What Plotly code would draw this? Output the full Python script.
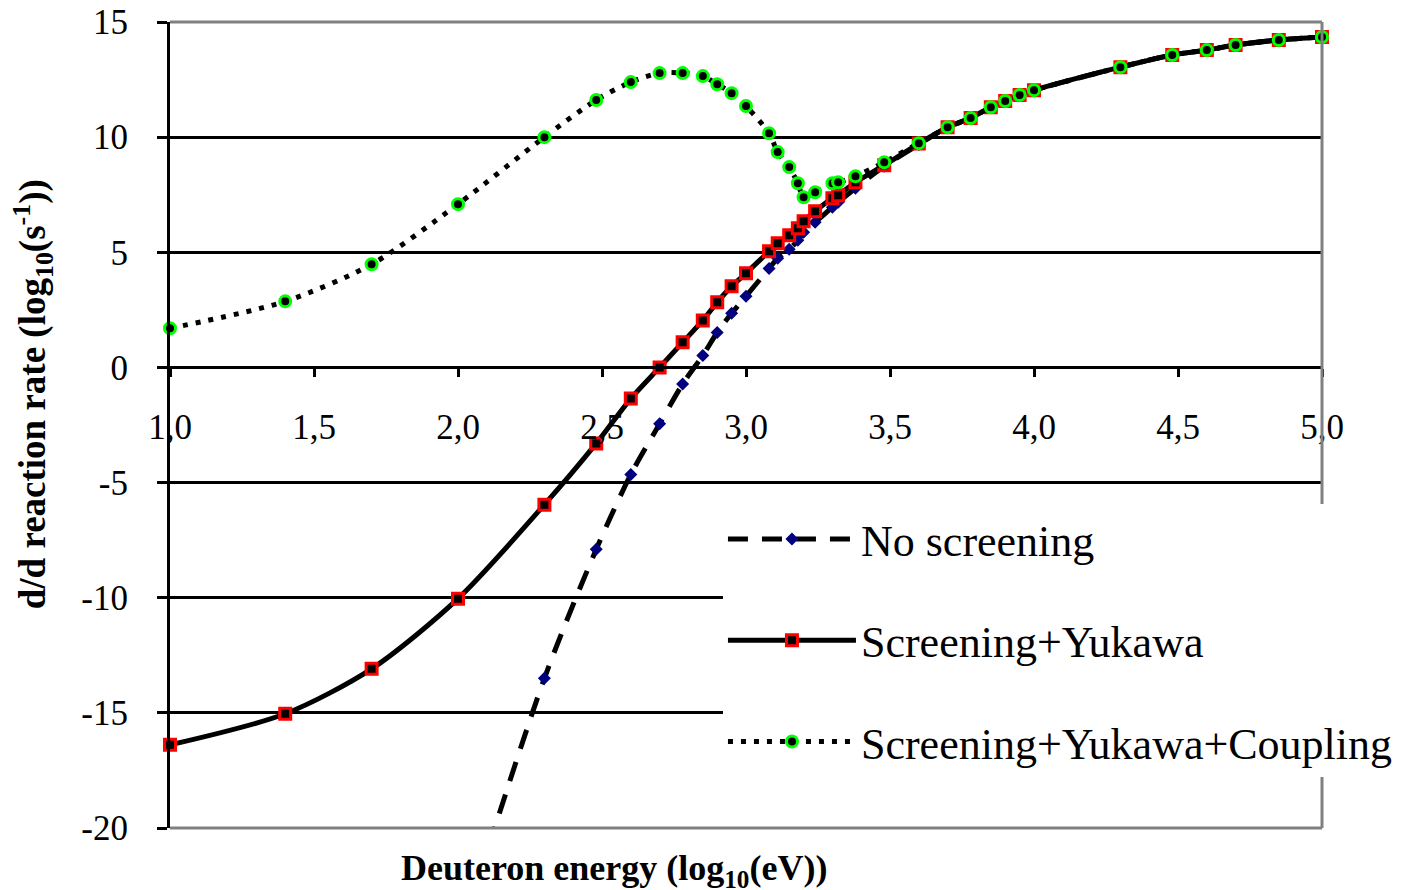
import plotly.graph_objects as go

# log10 of deuteron energy (eV)
log_energy = [1.0, 1.4, 1.7, 2.0, 2.3, 2.48, 2.6, 2.7, 2.78, 2.85, 2.9, 2.95, 3.0,
              3.08, 3.11, 3.15, 3.18, 3.2, 3.24, 3.3, 3.32, 3.38, 3.48, 3.6, 3.7,
              3.78, 3.85, 3.9, 3.95, 4.0, 4.3, 4.48, 4.6, 4.7, 4.85, 5.0]

no_screening = [None, None, None, -25.0, -13.5, -7.9, -4.65, -2.45, -0.72, 0.52, 1.52,
                2.35, 3.09, 4.30, 4.74, 5.13, 5.52, 5.87, 6.30, 6.96, 7.17, 7.78, 8.74,
                9.68, 10.43, 10.83, 11.30, 11.57, 11.83, 12.04, 13.04, 13.57, 13.78,
                14.0, 14.22, 14.35]

screening_yukawa = [-16.39, -15.04, -13.09, -10.04, -5.96, -3.30, -1.35, 0.0, 1.09, 2.04,
                    2.83, 3.52, 4.09, 5.04, 5.39, 5.74, 6.04, 6.35, 6.78, 7.35, 7.48, 8.04,
                    8.78, 9.72, 10.43, 10.83, 11.30, 11.57, 11.83, 12.04, 13.04, 13.57,
                    13.78, 14.0, 14.22, 14.35]

screening_yukawa_coupling = [1.70, 2.87, 4.48, 7.09, 10.0, 11.61, 12.39, 12.78, 12.78, 12.65,
                             12.30, 11.91, 11.35, 10.17, 9.35, 8.70, 8.0, 7.39, 7.61, 8.0,
                             8.04, 8.30, 8.91, 9.74, 10.43, 10.83, 11.30, 11.57, 11.83,
                             12.04, 13.04, 13.57, 13.78, 14.0, 14.22, 14.35]

series_names = ["No screening", "Screening+Yukawa", "Screening+Yukawa+Coupling"]

x_ticks = [1.0, 1.5, 2.0, 2.5, 3.0, 3.5, 4.0, 4.5, 5.0]
x_ticktext = ["1,0", "1,5", "2,0", "2,5", "3,0", "3,5", "4,0", "4,5", "5,0"]
y_ticks = [-20, -15, -10, -5, 0, 5, 10, 15]
y_ticktext = ["-20", "-15", "-10", "-5", "0", "5", "10", "15"]

FONT = "Liberation Serif"

fig = go.Figure()

fig.add_trace(go.Scatter(
    x=log_energy, y=no_screening, name=series_names[0], mode="lines+markers",
    line=dict(color="black", width=5, dash="20px,14px", shape="spline", smoothing=0.8),
    marker=dict(symbol="diamond", size=10, color="#000080", line=dict(width=0)),
    legendgroup="a", connectgaps=False,
))
fig.add_trace(go.Scatter(
    x=log_energy, y=screening_yukawa, name=series_names[1], mode="lines+markers",
    line=dict(color="black", width=5, shape="spline", smoothing=0.8),
    marker=dict(symbol="square", size=11, color="black", line=dict(width=3, color="#FF0000")),
    legendgroup="b", cliponaxis=False,
))
fig.add_trace(go.Scatter(
    x=log_energy, y=screening_yukawa_coupling, name=series_names[2], mode="lines+markers",
    line=dict(color="black", width=5, dash="5px,8px", shape="spline", smoothing=0.8),
    marker=dict(symbol="circle", size=11, color="black", line=dict(width=3, color="#00FF00")),
    legendgroup="c", cliponaxis=False,
))

gray = "#808080"
for (x0, y0, x1, y1) in [(0, 1, 1, 1), (1, 0, 1, 1), (0, 0, 1, 0)]:
    fig.add_shape(type="line", xref="paper", yref="paper", x0=x0, y0=y0, x1=x1, y1=y1,
                  line=dict(color=gray, width=3), layer="above")

fig.add_annotation(text="<b>Deuteron energy (log<sub>10</sub>(eV))</b>", xref="paper", yref="paper",
                   x=0.385, y=-0.022, xanchor="center", yanchor="top", showarrow=False,
                   font=dict(family=FONT, size=36, color="black"))
fig.add_annotation(text="<b>d/d reaction rate (log<sub>10</sub>(s<sup>-1</sup>))</b>", xref="paper", yref="paper",
                   x=-0.119, y=0.538, xanchor="center", yanchor="middle", showarrow=False,
                   textangle=-90, font=dict(family=FONT, size=37, color="black"))

# the page body has an 8px default margin, so the figure is offset by 8px
fig.update_layout(
    width=1410, height=890,
    margin=dict(l=162, r=96, t=14, b=70, autoexpand=False),
    paper_bgcolor="white", plot_bgcolor="white",
    font=dict(family=FONT, color="black"),
    showlegend=True,
    legend=dict(x=0.480, y=0.402, xanchor="left", yanchor="top", bgcolor="white",
                borderwidth=0, font=dict(family=FONT, size=44, color="black"),
                traceorder="grouped", tracegroupgap=41, itemwidth=128),
    xaxis=dict(range=[1, 5], tickvals=x_ticks, ticktext=x_ticktext, showgrid=False,
               zeroline=False, showline=True, linecolor="black", linewidth=3,
               anchor="free", position=20/35, ticks="outside", ticklen=8, tickwidth=3,
               tickcolor="black", tickfont=dict(family=FONT, size=35, color="black"),
               ticklabelstandoff=20, ticklabeloverflow="allow", automargin=False),
    yaxis=dict(range=[-20, 15], tickvals=y_ticks, ticktext=y_ticktext, showgrid=True,
               gridcolor="black", gridwidth=3, zeroline=False, showline=True,
               linecolor="black", linewidth=3, ticks="outside", ticklen=10, tickwidth=3,
               tickcolor="black", tickfont=dict(family=FONT, size=35, color="black"),
               ticklabelstandoff=22, ticklabeloverflow="allow", automargin=False),
)

fig.write_html("out.html")
